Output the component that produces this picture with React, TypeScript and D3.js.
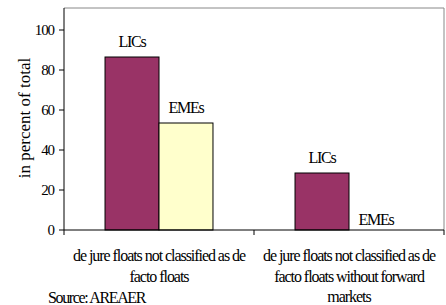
import * as d3 from 'd3';

const categories = [
  ['de jure floats not classified as de', 'facto floats'],
  ['de jure floats not classified as de', 'facto floats without forward', 'markets'],
];
const seriesNames = ['LICs', 'EMEs'];
const lics = [86.5, 28.5];
const emes = [53.5, 0];
const yTicks = [0, 20, 40, 60, 80, 100];
const colors = ['#993366', '#FFFFCC'];

const W = 446;
const H = 305;
const margin = { top: 8, right: 2, bottom: 75, left: 64 };
const font = 'Liberation Serif';

export default function App() {
  const x = d3
    .scaleBand<number>()
    .domain(categories.map((_, i) => i))
    .range([margin.left, W - margin.right])
    .paddingInner(0)
    .paddingOuter(0);
  const y = d3.scaleLinear().domain([0, 111]).range([H - margin.bottom, margin.top]);
  const inner = d3
    .scaleBand<number>()
    .domain([0, 1])
    .range([0, x.bandwidth()])
    .paddingOuter(0.76)
    .paddingInner(0);

  const values = [lics, emes];
  const x0 = margin.left;
  const x1 = W - margin.right;
  const y0 = y(0);

  return (
    <svg width={W} height={H} style={{ position: 'absolute', left: 0, top: 0, background: '#fff' }}>
      <g fontFamily={font} fill="#000">
        {/* frame */}
        <line x1={x0} x2={x1} y1={margin.top} y2={margin.top} stroke="#888" />
        <line x1={x1} x2={x1} y1={margin.top} y2={y0} stroke="#888" />

        {/* bars */}
        {categories.map((_, ci) =>
          values.map((vals, si) => {
            const bx = (x(ci) ?? 0) + (inner(si) ?? 0);
            const v = vals[ci];
            return (
              <g key={`${ci}-${si}`}>
                {v > 0 && (
                  <rect
                    x={bx}
                    y={y(v)}
                    width={inner.bandwidth()}
                    height={y0 - y(v)}
                    fill={colors[si]}
                    stroke="#000"
                    strokeWidth={1}
                  />
                )}
                <text
                  x={bx + inner.bandwidth() / 2}
                  y={v > 0 ? y(v) - 10 : y0 - 5}
                  textAnchor="middle"
                  fontSize={16}
                  letterSpacing={-1.2}
                  fontFamily={font}
                >
                  {seriesNames[si]}
                </text>
              </g>
            );
          })
        )}

        {/* y axis */}
        <line x1={x0} x2={x0} y1={margin.top} y2={y0} stroke="#000" />
        {yTicks.map((t) => (
          <g key={t}>
            <line x1={x0 - 5} x2={x0} y1={y(t)} y2={y(t)} stroke="#000" />
            <text x={x0 - 10} y={y(t) + 5} textAnchor="end" fontSize={15} letterSpacing={-1.1} fontFamily={font}>
              {t}
            </text>
          </g>
        ))}

        {/* x axis */}
        <line x1={x0} x2={x1} y1={y0} y2={y0} stroke="#000" />
        {[0, 1, 2].map((i) => {
          const tx = i < 2 ? x(i) ?? 0 : x1;
          return <line key={i} x1={tx} x2={tx} y1={y0} y2={y0 + 5} stroke="#000" />;
        })}
        {categories.map((lines, ci) => (
          <text
            key={ci}
            x={(x(ci) ?? 0) + x.bandwidth() / 2}
            textAnchor="middle"
            fontSize={16}
            letterSpacing={-1.05}
            fontFamily={font}
          >
            {lines.map((l, li) => (
              <tspan key={li} x={(x(ci) ?? 0) + x.bandwidth() / 2} y={261 + li * 20.5}>
                {l}
              </tspan>
            ))}
          </text>
        ))}

        <text
          transform={`translate(30,118) rotate(-90)`}
          textAnchor="middle"
          fontSize={17}
          fontFamily={font}
        >
          in percent of total
        </text>
        <text x={48} y={303} fontSize={16} letterSpacing={-1.35} fontFamily={font}>
          Source: AREAER
        </text>
      </g>
    </svg>
  );
}
